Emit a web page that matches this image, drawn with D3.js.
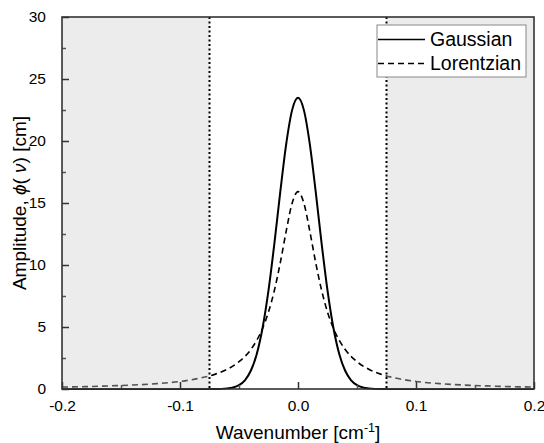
<!DOCTYPE html>
<html>
<head>
<meta charset="utf-8">
<script src="https://cdn.jsdelivr.net/npm/d3@7"></script>
<style>
  body { margin: 0; background: #fff; }
  text { font-family: "Liberation Sans", Arial, sans-serif; fill: #000; }
</style>
</head>
<body>
<div id="chart"></div>
<script>
// values
const gaussX = [-0.2, -0.1, -0.07, -0.06, -0.055, -0.05, -0.045, -0.04, -0.035, -0.03, -0.025, -0.02, -0.015, -0.01, -0.005,
    0, 0.005, 0.01, 0.015, 0.02, 0.025, 0.03, 0.035, 0.04, 0.045, 0.05, 0.055, 0.06, 0.07, 0.1, 0.2];
const gaussY = [0, 0, 0, 0.05, 0.12, 0.31, 0.7, 1.47, 2.81, 4.94, 7.95, 11.75, 15.91, 19.75, 22.49,
    23.49, 22.49, 19.75, 15.91, 11.75, 7.95, 4.94, 2.81, 1.47, 0.7, 0.31, 0.12, 0.05, 0, 0, 0];

const lorX = [-0.2, -0.18, -0.16, -0.14, -0.12, -0.1, -0.09, -0.08, -0.07, -0.06, -0.05, -0.04, -0.035, -0.03, -0.025, -0.02, -0.015, -0.01, -0.005,
    0, 0.005, 0.01, 0.015, 0.02, 0.025, 0.03, 0.035, 0.04, 0.05, 0.06, 0.07, 0.08, 0.09, 0.1, 0.12, 0.14, 0.16, 0.18, 0.2];
const lorY = [0.16, 0.19, 0.25, 0.32, 0.43, 0.61, 0.75, 0.94, 1.2, 1.59, 2.2, 3.18, 3.92, 4.9, 6.21, 7.96, 10.19, 12.73, 14.98,
    15.92, 14.98, 12.73, 10.19, 7.96, 6.21, 4.9, 3.92, 3.18, 2.2, 1.59, 1.2, 0.94, 0.75, 0.61, 0.43, 0.32, 0.25, 0.19, 0.16];

const windowEdges = [-0.075, 0.075];
const xTicks = [-0.2, -0.1, 0, 0.1, 0.2];
const xTickLabels = ["-0.2", "-0.1", "0.0", "0.1", "0.2"];
const xMinor = [-0.15, -0.05, 0.05, 0.15];
const yTicks = [0, 5, 10, 15, 20, 25, 30];
const yMinor = [2.5, 7.5, 12.5, 17.5, 22.5, 27.5];
const seriesNames = ["Gaussian", "Lorentzian"];

const margin = { top: 17, right: 10, bottom: 54, left: 62 };
const W = 544, H = 443;
const width = W - margin.left - margin.right;
const height = H - margin.top - margin.bottom;

const svg = d3.select("#chart").append("svg")
    .attr("width", W)
    .attr("height", H);

const g = svg.append("g")
    .attr("transform", `translate(${margin.left}, ${margin.top})`);

const x = d3.scaleLinear().domain([-0.2, 0.2]).range([0, width]);
const y = d3.scaleLinear().domain([0, 30]).range([height, 0]);

const line = d3.line()
    .x((d) => x(d[0]))
    .y((d) => y(d[1]))
    .curve(d3.curveMonotoneX);

g.append("rect")
    .attr("width", width).attr("height", height)
    .attr("fill", "#fff");

// curves
g.append("path")
    .datum(gaussX.map((v, i) => [v, gaussY[i]]))
    .attr("fill", "none")
    .attr("stroke", "#000")
    .attr("stroke-width", 2)
    .attr("d", line);

g.append("path")
    .datum(lorX.map((v, i) => [v, lorY[i]]))
    .attr("fill", "none")
    .attr("stroke", "#000")
    .attr("stroke-width", 1.6)
    .attr("stroke-dasharray", "6,4")
    .attr("d", line);

// shaded regions outside the window
g.append("rect")
    .attr("x", 0).attr("y", 0)
    .attr("width", x(windowEdges[0])).attr("height", height)
    .attr("fill", "#d0d0d0").attr("fill-opacity", 0.4);
g.append("rect")
    .attr("x", x(windowEdges[1])).attr("y", 0)
    .attr("width", width - x(windowEdges[1])).attr("height", height)
    .attr("fill", "#d0d0d0").attr("fill-opacity", 0.4);

g.selectAll(".edge")
    .data(windowEdges)
    .join("line")
    .attr("class", "edge")
    .attr("x1", (d) => x(d)).attr("x2", (d) => x(d))
    .attr("y1", 0).attr("y2", height)
    .attr("stroke", "#000")
    .attr("stroke-width", 2)
    .attr("stroke-dasharray", "2,2.5");

// inward ticks
const xAxis = g.append("g")
    .attr("transform", `translate(0, ${height})`)
    .call(d3.axisBottom(x).tickValues(xTicks).tickSize(-7).tickPadding(11)
        .tickFormat((d, i) => xTickLabels[i]));
xAxis.select(".domain").remove();
xAxis.selectAll("line").attr("stroke", "#333").attr("stroke-width", 1.5);
xAxis.selectAll("text").style("font-size", "15.5px").attr("fill", "#000");

g.append("g")
    .attr("transform", `translate(0, ${height})`)
    .call(d3.axisBottom(x).tickValues(xMinor).tickSize(-4).tickFormat(""))
    .call((s) => s.select(".domain").remove())
    .selectAll("line").attr("stroke", "#555").attr("stroke-width", 1.5);

const yAxis = g.append("g")
    .call(d3.axisLeft(y).tickValues(yTicks).tickSize(-7).tickPadding(16));
yAxis.select(".domain").remove();
yAxis.selectAll("line").attr("stroke", "#333").attr("stroke-width", 1.5);
yAxis.selectAll("text").style("font-size", "15.5px").attr("fill", "#000");

g.append("g")
    .call(d3.axisLeft(y).tickValues(yMinor).tickSize(-4).tickFormat(""))
    .call((s) => s.select(".domain").remove())
    .selectAll("line").attr("stroke", "#555").attr("stroke-width", 1.5);

// frame
g.append("rect")
    .attr("width", width).attr("height", height)
    .attr("fill", "none")
    .attr("stroke", "#333")
    .attr("stroke-width", 1.6);

// legend
const legend = g.append("g")
    .attr("transform", `translate(${377 - margin.left}, ${25 - margin.top})`);
legend.append("rect")
    .attr("width", 149).attr("height", 52)
    .attr("fill", "#fff")
    .attr("stroke", "#888")
    .attr("stroke-width", 1);
legend.selectAll(".row")
    .data(seriesNames)
    .join("g")
    .attr("class", "row")
    .attr("transform", (d, i) => `translate(0, ${14.5 + i * 24})`)
    .each(function (d, i) {
        const row = d3.select(this);
        row.append("line")
            .attr("x1", 1).attr("x2", 48)
            .attr("stroke", "#000")
            .attr("stroke-width", 1.5)
            .attr("stroke-dasharray", i === 0 ? null : "6,4");
        row.append("text")
            .attr("x", 53).attr("y", 6.5)
            .style("font-size", "19.5px")
            .text(d);
    });

// axis titles
svg.append("text")
    .attr("x", margin.left + width / 2)
    .attr("y", 439)
    .attr("text-anchor", "middle")
    .style("font-size", "19px")
    .call((t) => {
        t.append("tspan").text("Wavenumber [cm");
        t.append("tspan").attr("dy", -7).style("font-size", "12.5px").text("-1");
        t.append("tspan").attr("dy", 7).text("]");
    });

svg.append("text")
    .attr("transform", `translate(26, ${margin.top + height / 2}) rotate(-90)`)
    .attr("text-anchor", "middle")
    .style("font-size", "19px")
    .call((t) => {
        t.append("tspan").text("Amplitude, ");
        t.append("tspan").style("font-style", "italic").text("\u03d5");
        t.append("tspan").text("( ");
        t.append("tspan").style("font-style", "italic").text("\u03bd");
        t.append("tspan").text(") [cm]");
    });
</script>
</body>
</html>
